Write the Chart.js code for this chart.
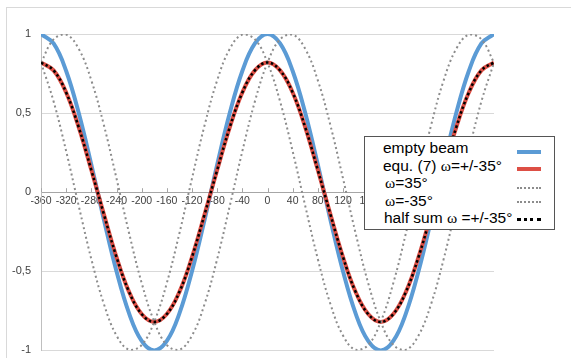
<!DOCTYPE html>
<html>
<head>
<meta charset="utf-8">
<script src="https://cdn.jsdelivr.net/npm/chart.js@4.4.0/dist/chart.umd.min.js"></script>
<style>
    html, body { margin: 0; padding: 0; background: #fff; }
    #wrap { position: relative; width: 571px; height: 358px; overflow: hidden; }
    #frame { position: absolute; left: 6px; top: 7px; width: 600px; height: 400px;
             border-left: 1px solid #d9d9d9; border-top: 1px solid #d9d9d9; }
    #myChart { position: absolute; left: 0; top: 0; }
    .legend { position: absolute; left: 364px; top: 136px; width: 189px; height: 92px;
              background: #fff; border: 1px solid #555; font-family: "Liberation Sans", Arial, sans-serif;
              font-size: 15.5px; color: #000; }
    .row { position: absolute; left: 18px; height: 18px; line-height: 18px; white-space: nowrap; }
    .w { font-family: "Liberation Serif", "Times New Roman", serif; }
    .sample { position: absolute; left: 152px; width: 24px; height: 0; }
</style>
</head>
<body>
<div id="wrap">
    <div id="frame"></div>
    <canvas id="myChart" width="571" height="367"></canvas>
    <div class="legend">
        <div class="row" style="top:2px">empty beam</div>
        <div class="sample" style="top:13px;border-top:4px solid #5b9bd5"></div>
        <div class="row" style="top:20px">equ. (7) <span class="w">ω</span>=+/-35°</div>
        <div class="sample" style="top:30px;border-top:4px solid #dd4f45"></div>
        <div class="row" style="top:37px;left:20px"><span class="w">ω</span>=35°</div>
        <div class="sample" style="top:50px;border-top:2px dotted #8c8c8c"></div>
        <div class="row" style="top:55px;left:20px"><span class="w">ω</span>=-35°</div>
        <div class="sample" style="top:64px;border-top:2px dotted #8c8c8c"></div>
        <div class="row" style="top:72px;left:19px">half sum <span class="w">ω</span> =+/-35°</div>
        <div class="sample" style="top:81px;border-top:3px dotted #000"></div>
    </div>
</div>
<script>
// angle in degrees
const xValues = [-360, -340, -320, -300, -280, -260, -240, -220, -200, -180, -160, -140, -120, -100, -80, -60, -40, -20,
    0, 20, 40, 60, 80, 100, 120, 140, 160, 180, 200, 220, 240, 260, 280, 300, 320, 340, 360];

const emptyBeam = [1, 0.94, 0.766, 0.5, 0.174, -0.174, -0.5, -0.766, -0.94, -1, -0.94, -0.766, -0.5, -0.174, 0.174, 0.5, 0.766, 0.94,
    1, 0.94, 0.766, 0.5, 0.174, -0.174, -0.5, -0.766, -0.94, -1, -0.94, -0.766, -0.5, -0.174, 0.174, 0.5, 0.766, 0.94, 1];

const equ7 = [0.82, 0.77, 0.63, 0.41, 0.14, -0.14, -0.41, -0.63, -0.77, -0.82, -0.77, -0.63, -0.41, -0.14, 0.14, 0.41, 0.63, 0.77,
    0.82, 0.77, 0.63, 0.41, 0.14, -0.14, -0.41, -0.63, -0.77, -0.82, -0.77, -0.63, -0.41, -0.14, 0.14, 0.41, 0.63, 0.77, 0.82];

const omegaPlus = [0.819, 0.966, 0.996, 0.906, 0.707, 0.423, 0.087, -0.259, -0.574, -0.819, -0.966, -0.996, -0.906, -0.707, -0.423, -0.087, 0.259, 0.574,
    0.819, 0.966, 0.996, 0.906, 0.707, 0.423, 0.087, -0.259, -0.574, -0.819, -0.966, -0.996, -0.906, -0.707, -0.423, -0.087, 0.259, 0.574, 0.819];

const omegaMinus = [0.819, 0.574, 0.259, -0.087, -0.423, -0.707, -0.906, -0.996, -0.966, -0.819, -0.574, -0.259, 0.087, 0.423, 0.707, 0.906, 0.996, 0.966,
    0.819, 0.574, 0.259, -0.087, -0.423, -0.707, -0.906, -0.996, -0.966, -0.819, -0.574, -0.259, 0.087, 0.423, 0.707, 0.906, 0.996, 0.966, 0.819];

const halfSum = [0.82, 0.77, 0.63, 0.41, 0.14, -0.14, -0.41, -0.63, -0.77, -0.82, -0.77, -0.63, -0.41, -0.14, 0.14, 0.41, 0.63, 0.77,
    0.82, 0.77, 0.63, 0.41, 0.14, -0.14, -0.41, -0.63, -0.77, -0.82, -0.77, -0.63, -0.41, -0.14, 0.14, 0.41, 0.63, 0.77, 0.82];

function pts(arr) {
    return arr.map((v, i) => ({ x: xValues[i], y: v }));
}

// little tick marks standing on the x axis (at y = 0)
const xTickMarks = {
    id: 'xTickMarks',
    afterDraw(chart) {
        const c = chart.ctx, xs = chart.scales.x, ys = chart.scales.y;
        const y0 = ys.getPixelForValue(0);
        c.save();
        c.strokeStyle = '#a6a6a6';
        c.lineWidth = 1;
        for (let v = -360; v <= 360; v += 40) {
            const px = Math.round(xs.getPixelForValue(v)) + 0.5;
            c.beginPath();
            c.moveTo(px, y0);
            c.lineTo(px, y0 - 4);
            c.stroke();
        }
        c.restore();
    }
};

const ctx = document.getElementById('myChart').getContext('2d');
const myChart = new Chart(ctx, {
    type: 'scatter',
    data: {
        datasets: [
            { label: 'empty beam', data: pts(emptyBeam), borderColor: '#5b9bd5', borderWidth: 4, order: 4 },
            { label: 'equ. (7) ω=+/-35°', data: pts(equ7), borderColor: '#dd4f45', borderWidth: 4, order: 3 },
            { label: 'ω=35°', data: pts(omegaPlus), borderColor: '#8c8c8c', borderWidth: 2, borderDash: [2, 3], order: 2 },
            { label: 'ω=-35°', data: pts(omegaMinus), borderColor: '#8c8c8c', borderWidth: 2, borderDash: [2, 3], order: 1 },
            { label: 'half sum ω =+/-35°', data: pts(halfSum), borderColor: '#000', borderWidth: 2.5, borderDash: [2.5, 2.5], order: 0 }
        ].map(d => Object.assign(d, { showLine: true, pointRadius: 0, tension: 0.4, fill: false, borderCapStyle: 'butt' }))
    },
    options: {
        responsive: false,
        animation: false,
        events: [],
        layout: { padding: { top: 34, bottom: 8, left: 0, right: 77 } },
        plugins: { legend: { display: false }, tooltip: { enabled: false } },
        scales: {
            x: {
                type: 'linear',
                min: -360,
                max: 360,
                position: { y: 0 },
                afterFit: (s) => { s.height = 0; },
                grid: { display: false, drawTicks: false },
                border: { color: '#a6a6a6' },
                ticks: {
                    stepSize: 40,
                    autoSkip: false,
                    maxRotation: 0,
                    padding: 3,
                    color: '#404040',
                    font: { family: 'Liberation Sans', size: 10.5 }
                }
            },
            y: {
                min: -1,
                max: 1,
                position: 'left',
                afterFit: (s) => { s.width = 41; },
                grid: { color: '#d9d9d9', drawTicks: false },
                border: { color: '#bfbfbf' },
                ticks: {
                    stepSize: 0.5,
                    padding: 10,
                    color: '#404040',
                    font: { family: 'Liberation Sans', size: 11 },
                    callback: (v) => String(v).replace('.', ',')
                }
            }
        }
    },
    plugins: [xTickMarks]
});
</script>
</body>
</html>
